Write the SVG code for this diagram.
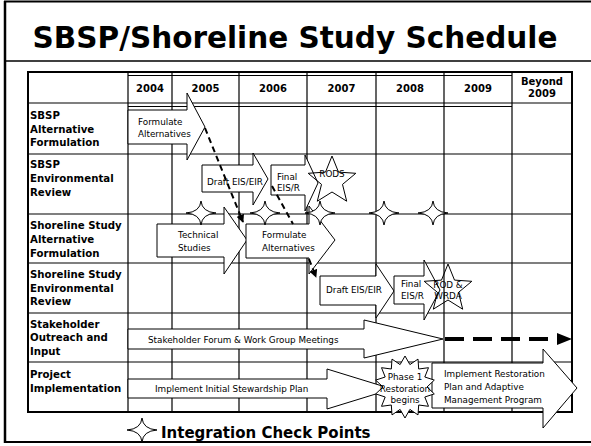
<svg xmlns="http://www.w3.org/2000/svg" width="591" height="446" viewBox="0 0 591 446">
<style>
.gl{stroke:#000;stroke-width:1.2;fill:none}
.ob{stroke:#000;stroke-width:2;fill:none}
.box{fill:#fff;stroke:#000;stroke-width:1}
.star{fill:none;stroke:#000;stroke-width:1}
.t{font-family:"DejaVu Sans",Verdana,sans-serif;font-size:8.8px;fill:#000}
.c{text-anchor:middle}
.lb{font-family:"DejaVu Sans",Verdana,sans-serif;font-weight:bold;font-size:10.2px;fill:#000}
.yr{font-family:"DejaVu Sans",Verdana,sans-serif;font-weight:bold;font-size:10px;fill:#000;text-anchor:middle}
.dash{stroke:#000;stroke-width:2;stroke-dasharray:6 4;fill:none}
.cp{fill:#fff;stroke:#000;stroke-width:1}
</style>
<defs>
<marker id="ah" viewBox="0 0 10 10" refX="9" refY="5" markerWidth="4" markerHeight="4" orient="auto">
<path d="M0,0 L10,5 L0,10 z" fill="#000"/>
</marker>
<path id="cpt" d="M-15,0 Q-1,-1 0,-12 Q1,-1 15,0 Q1,1 0,12 Q-1,1 -15,0Z"/>
</defs>
<rect width="591" height="446" fill="#fff"/>
<g id="frame">
<line x1="5" y1="1" x2="5" y2="443" stroke="#000" stroke-width="2.5"/>
<line x1="4" y1="1.5" x2="591" y2="1.5" stroke="#000" stroke-width="2"/>
<line x1="5" y1="61" x2="591" y2="61" stroke="#000" stroke-width="1.5"/>
<line x1="4" y1="442" x2="591" y2="442" stroke="#000" stroke-width="2"/>
</g>
<text x="295" y="48" font-family="DejaVu Sans,Verdana,sans-serif" font-weight="bold" font-size="29.5" text-anchor="middle">SBSP/Shoreline Study Schedule</text>
<g id="grid">
<path class="gl" d="M128,72V412M172,72V412M239,72V412M307,72V412M376,72V412M444,72V412M512,72V412"/>
<path class="gl" d="M28,103H572M28,154H572M28,214H572M28,263H572M28,313H572M28,362H572"/>
<path class="gl" d="M128,75.5H512M128,106.5H512" stroke-width="0.8"/>
<rect class="ob" x="28" y="72" width="544" height="340"/>
</g>
<g id="header">
<text class="yr" x="150" y="92">2004</text>
<text class="yr" x="205.5" y="92">2005</text>
<text class="yr" x="273" y="92">2006</text>
<text class="yr" x="341.5" y="92">2007</text>
<text class="yr" x="410" y="92">2008</text>
<text class="yr" x="478" y="92">2009</text>
<text class="yr" x="542" y="84.5">Beyond</text>
<text class="yr" x="542" y="97">2009</text>
</g>
<g id="row-labels">
<text class="lb" x="30" y="119">SBSP</text>
<text class="lb" x="30" y="132.5">Alternative</text>
<text class="lb" x="30" y="146">Formulation</text>
<text class="lb" x="30" y="168">SBSP</text>
<text class="lb" x="30" y="182">Environmental</text>
<text class="lb" x="30" y="196">Review</text>
<text class="lb" x="30" y="229">Shoreline Study</text>
<text class="lb" x="30" y="243">Alternative</text>
<text class="lb" x="30" y="257">Formulation</text>
<text class="lb" x="30" y="278">Shoreline Study</text>
<text class="lb" x="30" y="292">Environmental</text>
<text class="lb" x="30" y="305">Review</text>
<text class="lb" x="30" y="328">Stakeholder</text>
<text class="lb" x="30" y="341">Outreach and</text>
<text class="lb" x="30" y="355">Input</text>
<text class="lb" x="30" y="378">Project</text>
<text class="lb" x="30" y="392">Implementation</text>
</g>
<g id="sbsp-formulate">
<polygon class="box" points="128,110 187,110 187,93 205,127 187,160 187,144 128,144"/>
<text class="t" x="138" y="125">Formulate</text>
<text class="t" x="138" y="136.5">Alternatives</text>
</g>
<g id="sbsp-draft">
<polygon class="box" points="202,165 253,165 253,153 268,179 253,205 253,192 202,192"/>
<text class="t" x="207" y="185">Draft EIS/EIR</text>
</g>
<g id="sbsp-final">
<polygon class="box" points="271,165 305,165 305,155 318,183 305,211 305,195 271,195"/>
<text class="t" x="277" y="180">Final</text>
<text class="t" x="277" y="190.5">EIS/R</text>
</g>
<g id="sbsp-rods">
<polygon class="star" points="332,156 338.5,172.1 355.8,173.3 342.5,184.4 346.7,201.2 332,192 317.3,201.2 321.5,184.4 308.2,173.3 325.5,172.1"/>
<text class="t c" x="332" y="177">RODS</text>
</g>
<g id="ss-technical">
<polygon class="box" points="157,224 224,224 224,207 247,240 224,274 224,257 157,257"/>
<text class="t" x="178" y="238">Technical</text>
<text class="t" x="178" y="250.5">Studies</text>
</g>
<g id="ss-formulate">
<polygon class="box" points="246,224 309,224 309,206 335,240 309,274 309,258 246,258"/>
<text class="t" x="262" y="238">Formulate</text>
<text class="t" x="262" y="250.5">Alternatives</text>
</g>
<g id="ss-draft">
<polygon class="box" points="320,276 376,276 376,264 394,291 376,318 376,305 320,305"/>
<text class="t" x="326" y="293">Draft EIS/EIR</text>
</g>
<g id="ss-final">
<polygon class="box" points="394,276 424,276 424,260 440,290 424,320 424,304 394,304"/>
<text class="t" x="401" y="287">Final</text>
<text class="t" x="401" y="299">EIS/R</text>
</g>
<g id="ss-rod-wrda">
<polygon class="star" points="448,264 454.5,280.1 471.8,281.3 458.5,292.4 462.7,309.2 448,300 433.3,309.2 437.5,292.4 424.2,281.3 441.5,280.1"/>
<text class="t c" x="448" y="287.5">ROD &amp;</text>
<text class="t c" x="448" y="299">WRDA</text>
</g>
<g id="stakeholder">
<polygon class="box" points="128,329 364,329 364,320 443,339 364,358 364,349 128,349"/>
<text class="t" x="148" y="342.5">Stakeholder Forum &amp; Work Group Meetings</text>
</g>
<g id="implement-initial">
<polygon class="box" points="128,379 327,379 327,369 392,389 327,409 327,398 128,398"/>
<text class="t" x="155" y="392">Implement Initial Stewardship Plan</text>
</g>
<g id="implement-restoration">
<polygon class="box" points="432,363 543,363 543,349 577,388 543,428 543,408 432,408"/>
<text class="t" x="444" y="377">Implement Restoration</text>
<text class="t" x="444" y="389.5">Plan and Adaptive</text>
<text class="t" x="444" y="402.5">Management Program</text>
</g>
<g id="phase1">
<polygon class="box" points="405,356 409.9,364.6 418,359.1 418.7,369 428.5,367.7 424.8,377 434.3,380.1 427,387 434.3,393.9 424.8,397 428.5,406.3 418.7,405 418,414.9 409.9,409.4 405,418 400.1,409.4 392,414.9 391.3,405 381.5,406.3 385.2,397 375.7,393.9 383,387 375.7,380.1 385.2,377 381.5,367.7 391.3,369 392,359.1 400.1,364.6"/>
<text class="t c" x="405" y="379.5" font-size="8">Phase 1</text>
<text class="t c" x="405" y="391.5" font-size="7.6">Restoration</text>
<text class="t c" x="405" y="403" font-size="8">begins</text>
</g>
<g id="checkpoints">
<use href="#cpt" class="cp" x="201" y="213"/>
<use href="#cpt" class="cp" x="265" y="213"/>
<use href="#cpt" class="cp" x="320" y="213"/>
<use href="#cpt" class="cp" x="384" y="213"/>
<use href="#cpt" class="cp" x="433" y="213"/>
</g>
<g id="connectors">
<line class="dash" x1="205" y1="128" x2="243" y2="222" marker-end="url(#ah)"/>
<line class="dash" x1="272" y1="186" x2="293" y2="224"/>
<line class="dash" x1="309" y1="259" x2="316" y2="277" marker-end="url(#ah)"/>
<line x1="445" y1="339" x2="557" y2="339" stroke="#000" stroke-width="4" stroke-dasharray="19 9"/>
<polygon points="557,333 572,339 557,345" fill="#000"/>
</g>
<g id="legend">
<use href="#cpt" class="cp" x="142" y="430"/>
<text x="161" y="438" font-family="DejaVu Sans,Verdana,sans-serif" font-weight="bold" font-size="15">Integration Check Points</text>
</g>
</svg>
